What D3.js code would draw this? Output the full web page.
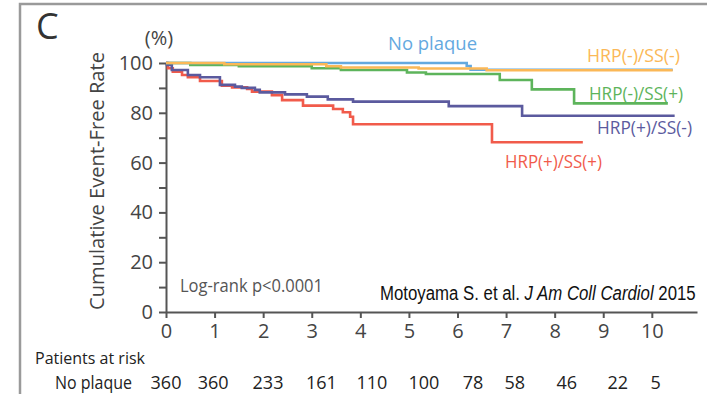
<!DOCTYPE html>
<html>
<head>
<meta charset="utf-8">
<script src="https://cdn.jsdelivr.net/npm/d3@7"></script>
<style>
  body { margin: 0; background: #fff; }
  svg { display: block; font-family: 'Open Sans', sans-serif; }
</style>
</head>
<body>
<div id="chart-area"></div>
<script>
// Data (years, event-free %)
const noPlaque = [[0, 100], [6.19, 98.8], [6.27, 97.3], [10.43, 97.3]];
const hrpNegSsNeg = [[0, 100], [1.2, 99.5], [3.3, 98.7], [3.6, 98.2], [5.2, 97.8], [6.6, 97.1], [10.43, 97.1]];
const hrpNegSsPos = [[0, 100], [0.5, 99.2], [1.5, 98.7], [3.0, 97.9], [3.6, 97.2], [4.96, 96.2], [5.35, 95.6],
    [6.87, 93.2], [7.53, 89.4], [8.4, 83.8], [10.33, 83.8]];
const hrpPosSsNeg = [[0, 100], [0.02, 99.2], [0.12, 97.2], [0.45, 95.2], [0.7, 94.3], [1.11, 91.2], [1.42, 90.5],
    [1.56, 90], [1.83, 89.2], [1.93, 88.2], [2.45, 87.4], [2.9, 86.5], [3.33, 85.4], [3.85, 84.5],
    [5.82, 82.7], [7.33, 78.8], [10.47, 78.8]];
const hrpPosSsPos = [[0, 100], [0.04, 97.9], [0.14, 96.5], [0.33, 95.2], [0.45, 94.3], [0.7, 92.8], [1.15, 90.9],
    [1.36, 90.2], [1.67, 89.6], [1.77, 88.5], [2.18, 87.1], [2.39, 85.1], [2.82, 82.9], [3.44, 81.5],
    [3.64, 80.2], [3.79, 78.4], [3.85, 75.4], [6.71, 68.2], [8.58, 68.2]];

const seriesNames = ['HRP(+)/SS(+)', 'HRP(+)/SS(-)', 'HRP(-)/SS(+)', 'No plaque', 'HRP(-)/SS(-)'];
const seriesData = [hrpPosSsPos, hrpPosSsNeg, hrpNegSsPos, noPlaque, hrpNegSsNeg];

const xTicks = [0, 1, 2, 3, 4, 5, 6, 7, 8, 9, 10];
const yTicks = [0, 10, 20, 30, 40, 50, 60, 70, 80, 90, 100];
const riskCounts = [360, 360, 233, 161, 110, 100, 78, 58, 46, 22, 5];
const riskYears = [0, 0.97, 2.1, 3.2, 4.24, 5.31, 6.32, 7.18, 8.25, 9.3, 10.08];

// Constants
const MARGIN = { LEFT: 166, RIGHT: 10, TOP: 63, BOTTOM: 82 };
const WIDTH = 707 - MARGIN.LEFT - MARGIN.RIGHT;
const HEIGHT = 394 - MARGIN.TOP - MARGIN.BOTTOM;
const COLORS = {
    'No plaque': '#64a9df',
    'HRP(-)/SS(-)': '#fbb857',
    'HRP(-)/SS(+)': '#5db45b',
    'HRP(+)/SS(-)': '#5b5a9e',
    'HRP(+)/SS(+)': '#f15b4b'
};
// label anchor: [x px, baseline px, text width]
const LABELS = {
    'No plaque': [388, 50, 89],
    'HRP(-)/SS(-)': [587, 62, 93],
    'HRP(-)/SS(+)': [589, 100, 94],
    'HRP(+)/SS(-)': [597, 134, 95],
    'HRP(+)/SS(+)': [505, 168, 97]
};

// SVG
const svg = d3.select('#chart-area')
    .append('svg')
    .attr('width', 707)
    .attr('height', 394);

// frame
svg.append('path')
    .attr('d', 'M20,394 V4 H707')
    .attr('fill', 'none')
    .attr('stroke', '#9a9a9a')
    .attr('stroke-width', 2.5);

svg.append('text')
    .attr('x', 36).attr('y', 39)
    .attr('font-size', 36)
    .attr('font-weight', 500)
    .attr('fill', '#333')
    .text('C');

const g = svg.append('g')
    .attr('transform', `translate(${MARGIN.LEFT}, ${MARGIN.TOP})`);

// Scales
const x = d3.scaleLinear()
    .domain([0, 10.93])
    .range([0, WIDTH]);

const y = d3.scaleLinear()
    .domain([0, 100])
    .range([HEIGHT, 0]);

// Axes
const xAxis = g.append('g')
    .attr('transform', `translate(0, ${HEIGHT})`)
    .call(d3.axisBottom(x).tickValues(xTicks).tickSize(6).tickSizeOuter(0).tickPadding(6));

const yAxis = g.append('g')
    .call(d3.axisLeft(y).tickValues(yTicks).tickSize(7).tickSizeOuter(0).tickPadding(6)
        .tickFormat(d => d % 20 === 0 ? d : ''));

[xAxis, yAxis].forEach(a => {
    a.select('.domain').attr('stroke', '#555').attr('stroke-width', 2);
    a.selectAll('.tick line').attr('stroke', '#555').attr('stroke-width', 2);
    a.selectAll('.tick text')
        .attr('fill', '#444')
        .attr('font-size', 20)
        .attr('font-family', "'Open Sans', sans-serif");
});
xAxis.selectAll('.tick text').attr('dy', '0.72em');

svg.append('text')
    .attr('x', 159).attr('y', 45)
    .attr('text-anchor', 'middle')
    .attr('font-size', 20)
    .attr('fill', '#444')
    .text('(%)');

svg.append('text')
    .attr('transform', 'translate(104, 181) rotate(-90)')
    .attr('text-anchor', 'middle')
    .attr('font-size', 20.5)
    .attr('textLength', 258)
    .attr('lengthAdjust', 'spacingAndGlyphs')
    .attr('fill', '#444')
    .text('Cumulative Event-Free Rate');

// Curves
const line = d3.line()
    .x(d => x(d[0]))
    .y(d => y(d[1]))
    .curve(d3.curveStepAfter);

g.selectAll('path.km')
    .data(seriesData)
    .enter().append('path')
    .attr('class', 'km')
    .attr('d', line)
    .attr('fill', 'none')
    .attr('stroke', (d, i) => COLORS[seriesNames[i]])
    .attr('stroke-width', 2.6);

// Labels
seriesNames.forEach(name => {
    const [lx, ly, lw] = LABELS[name];
    svg.append('text')
        .attr('x', lx).attr('y', ly)
        .attr('font-size', 18)
        .attr('textLength', lw)
        .attr('lengthAdjust', 'spacingAndGlyphs')
        .attr('fill', COLORS[name])
        .text(name);
});

svg.append('text')
    .attr('x', 180).attr('y', 292)
    .attr('font-size', 18)
    .attr('textLength', 143)
    .attr('lengthAdjust', 'spacingAndGlyphs')
    .attr('fill', '#555')
    .text('Log-rank p<0.0001');

// citation: narrow look by squeezing horizontally
const cite = svg.append('text')
    .attr('transform', 'translate(380, 300) scale(0.8, 1)')
    .attr('font-family', "'Liberation Sans', Arial, sans-serif")
    .attr('font-size', 21)
    .attr('fill', '#111');
cite.append('tspan').text('Motoyama S. et al. ');
cite.append('tspan').attr('font-style', 'italic').text('J Am Coll Cardiol');
cite.append('tspan').text(' 2015');

// Patients at risk
svg.append('text')
    .attr('x', 35).attr('y', 364)
    .attr('font-size', 17)
    .attr('textLength', 110)
    .attr('lengthAdjust', 'spacingAndGlyphs')
    .attr('fill', '#222')
    .text('Patients at risk');

svg.append('text')
    .attr('x', 55).attr('y', 389)
    .attr('font-size', 18)
    .attr('textLength', 77)
    .attr('lengthAdjust', 'spacingAndGlyphs')
    .attr('fill', '#222')
    .text('No plaque');

g.selectAll('text.risk')
    .data(riskCounts)
    .enter().append('text')
    .attr('class', 'risk')
    .attr('x', (d, i) => x(riskYears[i]))
    .attr('y', 389 - MARGIN.TOP)
    .attr('text-anchor', 'middle')
    .attr('font-size', 18)
    .attr('fill', '#222')
    .text(d => d);
</script>
</body>
</html>
